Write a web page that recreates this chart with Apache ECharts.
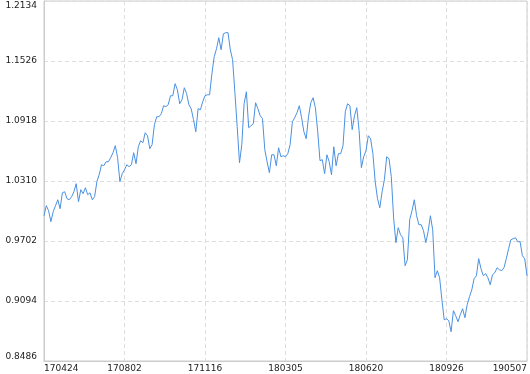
<!DOCTYPE html>
<html>
<head>
<meta charset="utf-8">
<script src="https://cdn.jsdelivr.net/npm/echarts@6/dist/echarts.min.js"></script>
<style>
  html, body { margin: 0; padding: 0; background: #fff; }
  #chart { width: 530px; height: 374px; }
</style>
</head>
<body>
<div id="chart"></div>
<script>
// x tick labels, one every `step` points
const tickLabels = ['170424', '170802', '171116', '180305', '180620', '180926', '190507']
const step = 35

const yTicks = [0.8486, 0.9094, 0.9702, 1.0310, 1.0918, 1.1526, 1.2134]

// net value
const values = [
  0.9958, 1.0060, 1.0009, 0.9898, 0.9999, 1.0060, 1.0120, 1.0029, 1.0191, 1.0201,
  1.0131, 1.0120, 1.0151, 1.0201, 1.0283, 1.0100, 1.0222, 1.0181, 1.0242, 1.0171,
  1.0191, 1.0120, 1.0151, 1.0303, 1.0374, 1.0475, 1.0465, 1.0505, 1.0505, 1.0546,
  1.0597, 1.0668, 1.0546, 1.0303, 1.0384, 1.0424, 1.0475, 1.0455, 1.0475, 1.0597,
  1.0485, 1.0657, 1.0718, 1.0698, 1.0799, 1.0769, 1.0637, 1.0678, 1.0880, 1.0961,
  1.0961, 1.0992, 1.1073, 1.1063, 1.1083, 1.1174, 1.1174, 1.1296, 1.1235, 1.1093,
  1.1134, 1.1255, 1.1195, 1.1083, 1.1043, 1.0931, 1.0809, 1.1043, 1.1032, 1.1113,
  1.1174, 1.1184, 1.1184, 1.1397, 1.1569, 1.1650, 1.1762, 1.1640, 1.1802, 1.1813,
  1.1813, 1.1640, 1.1539, 1.1205, 1.0860, 1.0495, 1.0678, 1.1093, 1.1215, 1.0850,
  1.0870, 1.0890, 1.1103, 1.1043, 1.0972, 1.0941, 1.0627, 1.0505, 1.0394, 1.0576,
  1.0576, 1.0465, 1.0647, 1.0556, 1.0566, 1.0556, 1.0587, 1.0678, 1.0911, 1.0951,
  1.1002, 1.1073, 1.0951, 1.0809, 1.0739, 1.0961, 1.1103, 1.1154, 1.1053, 1.0809,
  1.0516, 1.0526, 1.0384, 1.0576, 1.0505, 1.0374, 1.0657, 1.0465, 1.0587, 1.0587,
  1.0668, 1.1012, 1.1093, 1.1073, 1.0830, 1.0972, 1.1053, 1.0820, 1.0445, 1.0556,
  1.0617, 1.0769, 1.0739, 1.0587, 1.0303, 1.0131, 1.0039, 1.0201, 1.0323, 1.0556,
  1.0536, 1.0354, 0.9938, 0.9685, 0.9837, 0.9766, 0.9735, 0.9452, 0.9512, 0.9918,
  1.0009, 1.0120, 0.9958, 0.9867, 0.9867, 0.9806, 0.9685, 0.9796, 0.9958, 0.9816,
  0.9330, 0.9401, 0.9330, 0.9107, 0.8904, 0.8915, 0.8894, 0.8783, 0.8996, 0.8945,
  0.8884, 0.8955, 0.9016, 0.8925, 0.9056, 0.9138, 0.9208, 0.9320, 0.9350, 0.9523,
  0.9421, 0.9350, 0.9371, 0.9330, 0.9259, 0.9360, 0.9381, 0.9431, 0.9411, 0.9401,
  0.9431, 0.9523, 0.9624, 0.9715, 0.9725, 0.9735, 0.9695, 0.9695, 0.9553, 0.9523,
  0.9350
]

const categories = values.map((_, i) => (i % step === 0 ? tickLabels[i / step] : String(i)))

const chart = echarts.init(document.getElementById('chart'))
const font = 'DejaVu Sans'

chart.setOption({
  animation: false,
  grid: { left: 44, right: 2, top: 1, bottom: 13, show: true, borderColor: '#ccc', borderWidth: 1 },
  xAxis: {
    type: 'category',
    data: categories,
    boundaryGap: false,
    axisLine: { lineStyle: { color: '#ccc' } },
    axisTick: { show: false, interval: step - 1 },
    axisLabel: {
      interval: step - 1, color: '#222', fontFamily: font, fontSize: 9, margin: 3,
      alignMinLabel: 'left', alignMaxLabel: 'right'
    },
    splitLine: { show: true, interval: step - 1, lineStyle: { color: '#ddd', type: [4, 3] } }
  },
  yAxis: {
    type: 'value',
    min: yTicks[0],
    max: yTicks[yTicks.length - 1],
    axisLine: { show: true, lineStyle: { color: '#ccc' } },
    axisTick: { show: false, customValues: yTicks },
    axisLabel: {
      customValues: yTicks, color: '#222', fontFamily: font, fontSize: 9, margin: 7,
      formatter: v => v.toFixed(4),
      verticalAlignMinLabel: 'bottom', verticalAlignMaxLabel: 'top'
    },
    splitLine: { lineStyle: { color: '#ddd', type: [4, 3] } }
  },
  series: [{
    type: 'line',
    data: values,
    symbol: 'none',
    lineStyle: { color: '#4a90e2', width: 1 }
  }]
})
</script>
</body>
</html>
